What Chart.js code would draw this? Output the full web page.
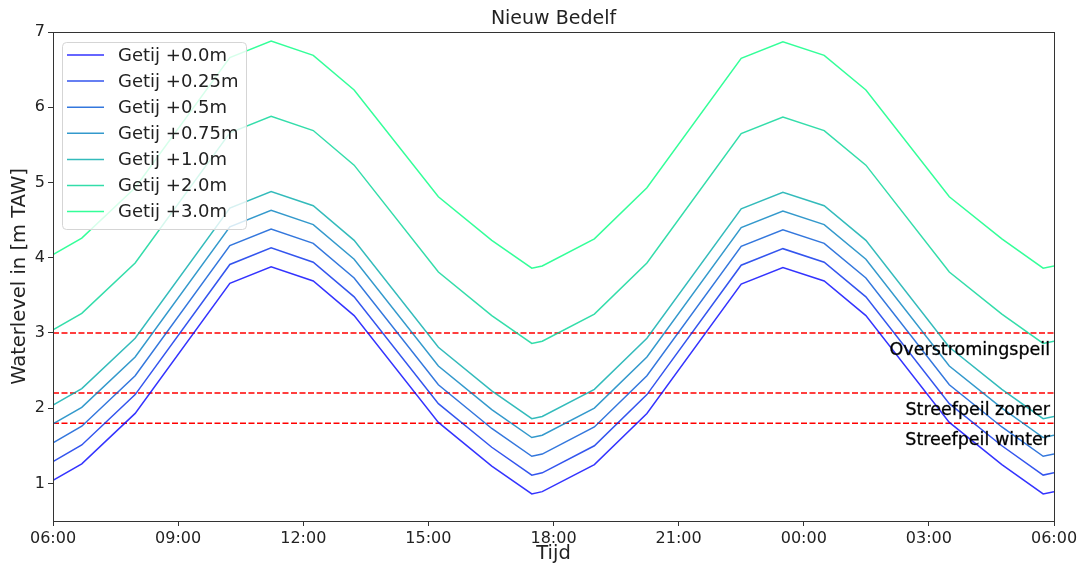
<!DOCTYPE html>
<html>
<head>
<meta charset="utf-8">
<script src="https://cdn.jsdelivr.net/npm/chart.js@4"></script>
<style>
  html, body { margin: 0; padding: 0; background: #ffffff; }
  #wrap { width: 1083px; height: 567px; }
</style>
</head>
<body>
<div id="wrap"><canvas id="c" width="1083" height="567"></canvas></div>
<script>
// ---- data (hours after 06:00) ----
const times = [0, 0.69, 1.97, 4.24, 5.23, 6.24, 7.22, 9.24, 10.52, 11.48, 11.73, 12.98, 14.24, 16.50, 17.50, 18.49, 19.49, 21.49, 22.75, 23.74, 24.0];
const getij000 = [1.04, 1.26, 1.93, 3.66, 3.88, 3.69, 3.23, 1.81, 1.23, 0.86, 0.89, 1.25, 1.93, 3.65, 3.87, 3.69, 3.23, 1.81, 1.25, 0.86, 0.89];
const getij025 = [1.29, 1.51, 2.18, 3.91, 4.13, 3.94, 3.48, 2.06, 1.48, 1.11, 1.14, 1.50, 2.18, 3.90, 4.12, 3.94, 3.48, 2.06, 1.50, 1.11, 1.14];
const getij050 = [1.54, 1.76, 2.43, 4.16, 4.38, 4.19, 3.73, 2.31, 1.73, 1.36, 1.39, 1.75, 2.43, 4.15, 4.37, 4.19, 3.73, 2.31, 1.75, 1.36, 1.39];
const getij075 = [1.79, 2.01, 2.68, 4.41, 4.63, 4.44, 3.98, 2.56, 1.98, 1.61, 1.64, 2.00, 2.68, 4.40, 4.62, 4.44, 3.98, 2.56, 2.00, 1.61, 1.64];
const getij100 = [2.04, 2.26, 2.93, 4.66, 4.88, 4.69, 4.23, 2.81, 2.23, 1.86, 1.89, 2.25, 2.93, 4.65, 4.87, 4.69, 4.23, 2.81, 2.25, 1.86, 1.89];
const getij200 = [3.04, 3.26, 3.93, 5.66, 5.88, 5.69, 5.23, 3.81, 3.23, 2.86, 2.89, 3.25, 3.93, 5.65, 5.87, 5.69, 5.23, 3.81, 3.25, 2.86, 2.89];
const getij300 = [4.04, 4.26, 4.93, 6.66, 6.88, 6.69, 6.23, 4.81, 4.23, 3.86, 3.89, 4.25, 4.93, 6.65, 6.87, 6.69, 6.23, 4.81, 4.25, 3.86, 3.89];
const seriesNames = ['Getij +0.0m', 'Getij +0.25m', 'Getij +0.5m', 'Getij +0.75m', 'Getij +1.0m', 'Getij +2.0m', 'Getij +3.0m'];
const seriesValues = [getij000, getij025, getij050, getij075, getij100, getij200, getij300];
const levelValues = [3.0, 2.2, 1.8];
const levelLabels = ['Overstromingspeil', 'Streefpeil zomer', 'Streefpeil winter'];
const xTickValues = [0, 3, 6, 9, 12, 15, 18, 21, 24];
const xTickLabels = ['06:00', '09:00', '12:00', '15:00', '18:00', '21:00', '00:00', '03:00', '06:00'];
const yTickValues = [1, 2, 3, 4, 5, 6, 7];
const titleText = 'Nieuw Bedelf';
const xTitle = 'Tijd';
const yTitle = 'Waterlevel in [m TAW]';

// ---- styles ----
const seriesColors = [
  'rgba(0,0,255,0.8)', 'rgba(0,43,234,0.8)', 'rgba(0,85,212,0.8)', 'rgba(0,128,191,0.8)',
  'rgba(0,170,170,0.8)', 'rgba(0,213,149,0.8)', 'rgba(0,255,128,0.8)'
];
const FONT = "'DejaVu Sans', sans-serif";
const INK = '#222222';

const datasets = seriesValues.map((vals, i) => ({
  label: seriesNames[i],
  data: times.map((t, j) => ({ x: t, y: vals[j] })),
  borderColor: seriesColors[i],
  backgroundColor: seriesColors[i],
  borderWidth: 1.5,
  pointRadius: 0,
  tension: 0,
  fill: false
}));
levelValues.forEach((v, i) => {
  datasets.push({
    label: levelLabels[i],
    data: [{ x: xTickValues[0], y: v }, { x: xTickValues[xTickValues.length - 1], y: v }],
    borderColor: '#ff0000',
    borderWidth: 1.5,
    borderDash: [6, 2.5],
    pointRadius: 0,
    fill: false
  });
});

const decorPlugin = {
  id: 'decor',
  afterDatasetsDraw(chart) {
    const ctx = chart.ctx;
    const a = chart.chartArea;
    const ys = chart.scales.y;
    // level labels
    ctx.save();
    ctx.font = '17.5px ' + FONT;
    ctx.fillStyle = '#000000';
    ctx.strokeStyle = 'rgba(0,0,0,0.6)';
    ctx.lineWidth = 0.5;
    ctx.textAlign = 'right';
    ctx.textBaseline = 'middle';
    levelValues.forEach((v, i) => {
      const y = ys.getPixelForValue(v - 0.2) + 2;
      ctx.fillText(levelLabels[i], a.right - 4, y);
      ctx.strokeText(levelLabels[i], a.right - 4, y);
    });
    ctx.restore();

    // legend
    ctx.save();
    const bx = 62, by = 42, bw = 184, bh = 187;
    ctx.beginPath();
    ctx.roundRect(bx + 0.5, by + 0.5, bw, bh, 4);
    ctx.fillStyle = 'rgba(255,255,255,0.8)';
    ctx.fill();
    ctx.strokeStyle = '#d5d5d5';
    ctx.lineWidth = 1;
    ctx.stroke();
    ctx.font = '18px ' + FONT;
    ctx.textBaseline = 'middle';
    ctx.textAlign = 'left';
    seriesNames.forEach((name, i) => {
      const y = 55 + i * 26.1;
      ctx.beginPath();
      ctx.moveTo(67, y);
      ctx.lineTo(104, y);
      ctx.strokeStyle = seriesColors[i];
      ctx.lineWidth = 1.5;
      ctx.stroke();
      ctx.fillStyle = INK;
      ctx.fillText(name, 118, y + 1);
    });
    ctx.restore();
  },
  afterDraw(chart) {
    const ctx = chart.ctx;
    const a = chart.chartArea;
    ctx.save();
    // frame
    ctx.strokeStyle = '#333333';
    ctx.lineWidth = 1;
    ctx.strokeRect(Math.round(a.left) + 0.5, Math.round(a.top) + 0.5, Math.round(a.right - a.left), Math.round(a.bottom - a.top));
    // title
    ctx.fillStyle = INK;
    ctx.textAlign = 'center';
    ctx.textBaseline = 'middle';
    ctx.font = '19px ' + FONT;
    ctx.fillText(titleText, (a.left + a.right) / 2, 19);
    // axis titles
    ctx.font = '19.5px ' + FONT;
    ctx.fillText(xTitle, (a.left + a.right) / 2, 554);
    ctx.translate(20, (a.top + a.bottom) / 2);
    ctx.rotate(-Math.PI / 2);
    ctx.fillText(yTitle, 0, 0);
    ctx.restore();
  }
};

new Chart(document.getElementById('c'), {
  type: 'line',
  data: { datasets },
  options: {
    responsive: false,
    animation: false,
    layout: { padding: { left: 0, right: 29, top: 32, bottom: 0 } },
    plugins: { legend: { display: false }, title: { display: false }, tooltip: { enabled: false } },
    scales: {
      x: {
        type: 'linear',
        min: 0,
        max: 24,
        afterBuildTicks(scale) { scale.ticks = xTickValues.map(v => ({ value: v })); },
        afterFit(scale) { scale.height = 46; },
        ticks: {
          autoSkip: false,
          maxRotation: 0,
          padding: 3,
          color: INK,
          font: { family: FONT, size: 16 },
          callback(v) { const i = xTickValues.indexOf(v); return i >= 0 ? xTickLabels[i] : ''; }
        },
        grid: { drawOnChartArea: false, drawTicks: true, tickLength: 5, color: '#333333' },
        border: { display: true, color: '#333333' }
      },
      y: {
        type: 'linear',
        min: 0.5,
        max: 7,
        afterBuildTicks(scale) { scale.ticks = yTickValues.map(v => ({ value: v })); },
        afterFit(scale) { scale.width = 53; },
        ticks: {
          padding: 3,
          color: INK,
          font: { family: FONT, size: 16 },
          callback(v) { return String(v); }
        },
        grid: { drawOnChartArea: false, drawTicks: true, tickLength: 5, color: '#333333' },
        border: { display: true, color: '#333333' }
      }
    }
  },
  plugins: [decorPlugin]
});
</script>
</body>
</html>
